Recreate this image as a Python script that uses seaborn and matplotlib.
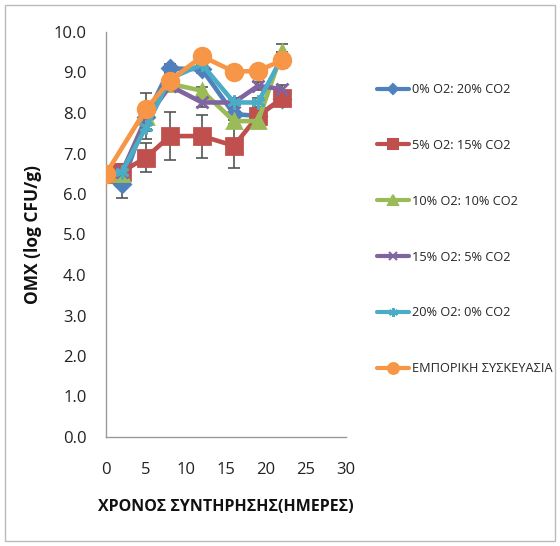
import numpy as np
import pandas as pd
import matplotlib
matplotlib.use("Agg")
import matplotlib.pyplot as plt
import seaborn as sns
from matplotlib.patches import Rectangle
from matplotlib.lines import Line2D

days = [0, 2, 5, 8, 12, 16, 19, 22]
labels = ["0% O2: 20% CO2", "5% O2: 15% CO2", "10% O2: 10% CO2",
          "15% O2: 5% CO2", "20% O2: 0% CO2", "ΕΜΠΟΡΙΚΗ ΣΥΣΚΕΥΑΣΙΑ"]
s0 = [6.5, 6.24, 7.9, 9.1, 9.08, 7.97, 7.93, 8.35]
s5 = [6.5, 6.55, 6.9, 7.43, 7.43, 7.19, 7.93, 8.36]
s10 = [6.5, 6.5, 7.9, 8.72, 8.55, 7.8, 7.8, 9.5]
s15 = [6.5, 6.55, 7.85, 8.67, 8.26, 8.26, 8.67, 8.59]
s20 = [6.5, 6.55, 7.65, 8.85, 9.2, 8.26, 8.26, 9.37]
sc = [6.5, np.nan, 8.1, 8.8, 9.4, 9.02, 9.04, 9.3]
e0 = [0.1, 0.35, 0.3, 0.1, 0.1, 0.15, 0.1, 0.1]
e5 = [0.1, 0.2, 0.35, 0.6, 0.53, 0.55, 0.2, 0.15]
e10 = [0.1, 0.2, 0.3, 0.1, 0.1, 0.1, 0.1, 0.2]
e15 = [0.1, 0.2, 0.3, 0.1, 0.1, 0.1, 0.1, 0.1]
e20 = [0.1, 0.2, 0.3, 0.1, 0.1, 0.1, 0.1, 0.1]
ec = [0.1, 0.0, 0.4, 0.15, 0.1, 0.1, 0.1, 0.2]

series = [s0, s5, s10, s15, s20, sc]
errs = [e0, e5, e10, e15, e20, ec]
colors = ["#4F81BD", "#C0504D", "#9BBB59", "#8064A2", "#4BACC6", "#F79646"]
markers = ["D", "s", "^", "x", (6, 2, 0), "o"]
msizes = [8, 11, 10, 9, 10, 12]

rows = []
for lab, vals in zip(labels, series):
    for d, v in zip(days, vals):
        rows.append({"day": d, "val": v, "series": lab})
df = pd.DataFrame(rows)

sns.set_theme(style="white")
plt.rcParams['font.family'] = ['Open Sans', 'DejaVu Sans']

fig = plt.figure(figsize=(5.6, 5.46), dpi=100)
ax = fig.add_axes([106/560, 1-437/546, 240/560, 405/546])

for lab, vals, err, c in zip(labels, series, errs, colors):
    ax.errorbar(days, vals, yerr=err, fmt="none", ecolor="#555555",
                elinewidth=1.2, capsize=4, capthick=1.2, zorder=1)

for lab, c, m, ms in zip(labels, colors, markers, msizes):
    sub = df[df["series"] == lab].dropna()
    sns.lineplot(data=sub, x="day", y="val", color=c, marker=m,
                 markersize=ms, markeredgecolor=c, markeredgewidth=2,
                 linewidth=3.3, ax=ax, zorder=3, legend=False)

ax.set_xlim(0, 30)
ax.set_ylim(0, 10)
ax.set_xticks(range(0, 31, 5))
ax.set_yticks(np.arange(0, 10.01, 1.0))
ax.set_yticklabels([f"{v:.1f}" for v in np.arange(0, 10.01, 1.0)])
ax.tick_params(axis="both", length=0, labelsize=12, colors="#222222")
ax.tick_params(axis="y", pad=14)
ax.tick_params(axis="x", pad=18)
for sp in ["top", "right"]:
    ax.spines[sp].set_visible(False)
for sp in ["left", "bottom"]:
    ax.spines[sp].set_color("#9a9a9a")
    ax.spines[sp].set_linewidth(1)
ax.set_xlabel("ΧΡΟΝΟΣ ΣΥΝΤΗΡΗΣΗΣ(ΗΜΕΡΕΣ)", fontsize=11.5, fontweight="bold",
              labelpad=15, color="#111111")
ax.set_ylabel("ΟΜΧ (log CFU/g)", fontsize=12.5, fontweight="bold",
              labelpad=8, color="#111111")

handles = [Line2D([0], [0], color=c, lw=3, marker=m, markersize=ms*0.65,
                  markeredgecolor=c, markeredgewidth=1.5)
           for c, m, ms in zip(colors, markers, msizes)]
leg = fig.legend(handles, labels, loc="upper left",
                 bbox_to_anchor=(372/560, 1-78/546), frameon=False,
                 fontsize=9.2, labelspacing=3.35, handlelength=2.5,
                 handletextpad=0.2, borderaxespad=0)

fig.patches.append(Rectangle((5/560, 5/546), 550/560, 536/546,
                             transform=fig.transFigure, fill=False,
                             edgecolor="#bbbbbb", linewidth=1))
fig.savefig("out.png", dpi=100)
